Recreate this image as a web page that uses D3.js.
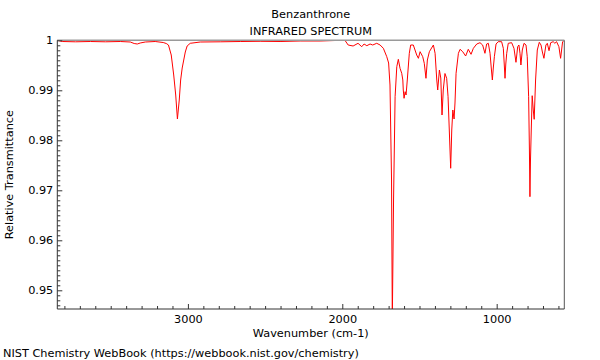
<!DOCTYPE html>
<html><head><meta charset="utf-8">
<script src="https://cdn.jsdelivr.net/npm/d3@7"></script>
<style>body{margin:0;background:#fff}svg text{font-family:"DejaVu Sans",sans-serif;font-size:11.3px;fill:#000}</style>
</head><body><svg id="c" width="600" height="360"></svg>
<script>
const title = "Benzanthrone";
const subtitle = "INFRARED SPECTRUM";
const xLabel = "Wavenumber (cm-1)";
const yLabel = "Relative Transmittance";
const footer = "NIST Chemistry WebBook (https://webbook.nist.gov/chemistry)";
const xTicks = [3000, 2000, 1000];
const yTicks = [0.95, 0.96, 0.97, 0.98, 0.99, 1];
const yTickLabels = ["0.95", "0.96", "0.97", "0.98", "0.99", "1"];
const wavenumber = [3846,3814,3729,3632,3535,3438,3373,3348,3328,3309,3276,3212,3160,3140,3126,3108,3092,3079,3068,3056,3047,3037,3027,3017,3005,2985,2920,2791,2661,2532,2403,2273,2144,2047,1982,1962,1930,1898,1874,1859,1841,1820,1803,1777,1755,1734,1712,1700,1691,1681,1676,1668,1658,1647,1637,1626,1615,1608,1605,1600,1593,1587,1579,1566,1557,1540,1518,1507,1496,1479,1469,1458,1449,1436,1410,1399,1388,1382,1371,1362,1354,1346,1335,1324,1315,1307,1298,1291,1284,1276,1270,1263,1248,1237,1220,1201,1184,1166,1151,1129,1108,1091,1076,1065,1054,1043,1035,1028,1022,1015,1004,990,968,957,951,946,941,935,925,903,888,875,864,856,849,843,834,823,810,802,793,788,784.5,781,776,770,763,757,748,737,724,713,704,694,681,672,661,650,634,623,612,597,586,573,562];
const transmittance = [1.0,0.99976,0.9997,0.99976,0.9997,0.99976,0.99966,0.99936,0.99926,0.99946,0.99966,0.99976,0.99956,0.99936,0.99906,0.99706,0.99306,0.98906,0.98426,0.98806,0.99206,0.99446,0.99606,0.99766,0.99886,0.9994,0.99966,0.9997,0.99976,0.9998,0.99976,0.99986,0.99986,0.99996,0.99996,0.99906,0.99886,0.9994,0.99872,0.99926,0.99892,0.99926,0.99906,0.9994,0.99906,0.9984,0.99672,0.99546,0.99106,0.97206,0.944,0.96806,0.98872,0.99472,0.9962,0.9944,0.9934,0.99206,0.99006,0.9884,0.98972,0.98906,0.99206,0.9974,0.99906,0.99906,0.99706,0.9964,0.99772,0.99672,0.9954,0.9924,0.99606,0.99772,0.99906,0.9974,0.99206,0.99006,0.99406,0.99246,0.98506,0.99006,0.99336,0.9924,0.98872,0.98206,0.97441,0.98206,0.98606,0.98426,0.98746,0.9934,0.9974,0.9982,0.99772,0.99686,0.9982,0.9972,0.9984,0.99926,0.99952,0.99906,0.9974,0.99926,0.9994,0.9974,0.99446,0.99206,0.99446,0.99672,0.99926,0.99972,0.99972,0.9984,0.99526,0.9924,0.99526,0.9974,0.9994,0.99952,0.9984,0.9956,0.99872,0.99906,0.9974,0.99506,0.99806,0.9994,0.99906,0.99672,0.98872,0.97806,0.96872,0.97606,0.98206,0.98892,0.98606,0.9842,0.99206,0.99806,0.9996,0.99906,0.99766,0.9964,0.99906,0.9994,0.99792,0.99952,0.99972,0.9994,0.99972,0.99872,0.9964,0.99972,1.0];

const L = 57.3, R = 564.3, T = 40.3, B = 309;
const FS = 11.3;
const svg = d3.select("#c");
const x = d3.scaleLinear().domain([3846, 562]).range([L, R]);
const y = d3.scaleLinear().domain([1 - (B - T) / 5000, 1]).range([B, T]);

svg.append("clipPath").attr("id", "clip").append("rect")
  .attr("x", L).attr("y", T - 1).attr("width", R - L).attr("height", B - T + 1);

const data = wavenumber.map((w, i) => [w, transmittance[i]]);
svg.append("path").datum(data)
  .attr("clip-path", "url(#clip)")
  .attr("fill", "none").attr("stroke", "#ff0000").attr("stroke-width", 1)
  .attr("d", d3.line().x(d => x(d[0])).y(d => y(d[1])));

// frame
svg.append("line").attr("x1", L).attr("x2", R).attr("y1", T).attr("y2", T)
  .attr("stroke", "#9a9a9a").attr("stroke-width", 1.6);
svg.append("line").attr("x1", R).attr("x2", R).attr("y1", T).attr("y2", B)
  .attr("stroke", "#555").attr("stroke-width", 1);

// x axis (ticks inward)
const xMinor = d3.range(600, 3801, 100).filter(v => xTicks.indexOf(v) < 0);
const gx = svg.append("g").attr("transform", `translate(0,${B})`);
gx.call(d3.axisBottom(x).tickValues(xMinor).tickSize(-3).tickFormat(""));
gx.call(g => g.select(".domain").remove());
const gx2 = svg.append("g").attr("transform", `translate(0,${B})`);
gx2.call(d3.axisBottom(x).tickValues(xTicks).tickSize(-5).tickPadding(6).tickFormat(d3.format("d")));
gx2.select(".domain").attr("d", `M${L},0H${R}`).attr("stroke", "#333");
gx.selectAll("line").attr("stroke", "#333");
gx2.selectAll("line").attr("stroke", "#333");
gx2.selectAll("text").attr("font-size", FS).attr("font-family", "DejaVu Sans").attr("fill", "#000");

// y axis (ticks inward)
const yMinor = d3.range(947, 1000).map(v => v / 1000).filter(v => Math.round(v * 1000) % 10 !== 0);
const gy = svg.append("g").attr("transform", `translate(${L},0)`);
gy.call(d3.axisLeft(y).tickValues(yMinor).tickSize(-3).tickFormat(""));
gy.call(g => g.select(".domain").remove());
const gy2 = svg.append("g").attr("transform", `translate(${L},0)`);
gy2.call(d3.axisLeft(y).tickValues(yTicks).tickSize(-5).tickPadding(4)
  .tickFormat((d, i) => yTickLabels[i]));
gy2.select(".domain").attr("d", `M0,${T}V${B}`).attr("stroke", "#333");
gy.selectAll("line").attr("stroke", "#333");
gy2.selectAll("line").attr("stroke", "#333");
gy2.selectAll("text").attr("font-size", FS).attr("font-family", "DejaVu Sans").attr("fill", "#000");

// texts
const cx = (L + R) / 2;
svg.append("text").attr("x", cx).attr("y", 17.5).attr("text-anchor", "middle").text(title);
svg.append("text").attr("x", cx).attr("y", 34.5).attr("text-anchor", "middle").text(subtitle);
svg.append("text").attr("x", cx).attr("y", 337).attr("text-anchor", "middle").text(xLabel);
svg.append("text").attr("transform", `translate(13,${(T + B) / 2}) rotate(-90)`)
  .attr("text-anchor", "middle").text(yLabel);
svg.append("text").attr("x", 3).attr("y", 357).text(footer);
</script></body></html>
